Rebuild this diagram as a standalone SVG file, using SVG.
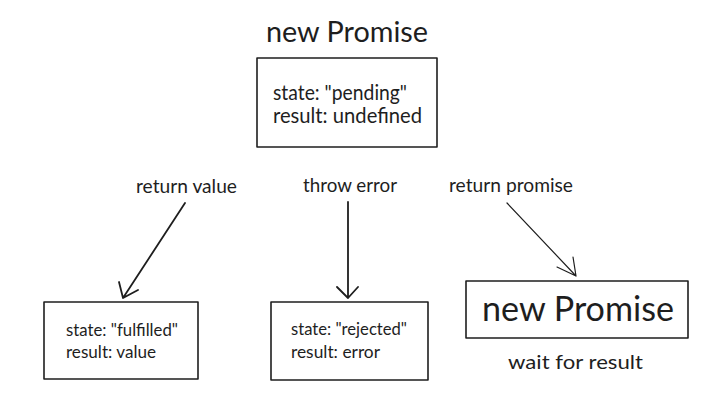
<svg xmlns="http://www.w3.org/2000/svg" width="701" height="393" viewBox="0 0 701 393">
<style>
text{font-family:Lato,"Open Sans",sans-serif;fill:#1e1e1e}
.box{fill:none;stroke:#1e1e1e;stroke-width:1.6;stroke-linejoin:round}
.c{fill:none;stroke:#1e1e1e;stroke-width:1.8;stroke-linecap:round;stroke-linejoin:round}
</style>
<rect width="701" height="393" fill="#fff"/>
<g id="start">
<text x="266" y="42" font-size="28" textLength="162" lengthAdjust="spacingAndGlyphs">new Promise</text>
<rect class="box" x="257" y="58" width="180" height="89"/>
<text x="273" y="100" font-size="20.5" textLength="134" lengthAdjust="spacingAndGlyphs">state: "pending"</text>
<text x="273" y="123" font-size="20.5" textLength="149" lengthAdjust="spacingAndGlyphs">result: undefined</text>
</g>
<g id="fulfilled">
<rect class="box" x="44" y="302" width="154" height="77"/>
<text x="66" y="336" font-size="17.5" textLength="112" lengthAdjust="spacingAndGlyphs">state: "fulfilled"</text>
<text x="66" y="358" font-size="17.5" textLength="90" lengthAdjust="spacingAndGlyphs">result: value</text>
</g>
<g id="rejected">
<rect class="box" x="271" y="302" width="157" height="78"/>
<text x="291" y="335" font-size="17.5" textLength="116" lengthAdjust="spacingAndGlyphs">state: "rejected"</text>
<text x="291" y="358" font-size="17.5" textLength="89" lengthAdjust="spacingAndGlyphs">result: error</text>
</g>
<g id="promise">
<rect class="box" x="466" y="281" width="222" height="57"/>
<text x="482" y="321" font-size="34" textLength="192" lengthAdjust="spacingAndGlyphs">new Promise</text>
<text x="508" y="369" font-size="20" textLength="135" lengthAdjust="spacingAndGlyphs">wait for result</text>
</g>
<g id="connectors">
<path class="c" d="M185 203 L123 298 M119 282 L123 298 L138 290"/>
<text x="136" y="193" font-size="19" textLength="101" lengthAdjust="spacingAndGlyphs">return value</text>
<path class="c" d="M348 202 L348 298 M337 287 L348 298 L358 287"/>
<text x="303" y="192" font-size="19" textLength="94" lengthAdjust="spacingAndGlyphs">throw error</text>
<path class="c" d="M507 203 L576 276 M557 267 L576 276 L573 257" style="stroke-width:1.2"/>
<text x="449" y="192" font-size="19" textLength="124" lengthAdjust="spacingAndGlyphs">return promise</text>
</g>
</svg>
